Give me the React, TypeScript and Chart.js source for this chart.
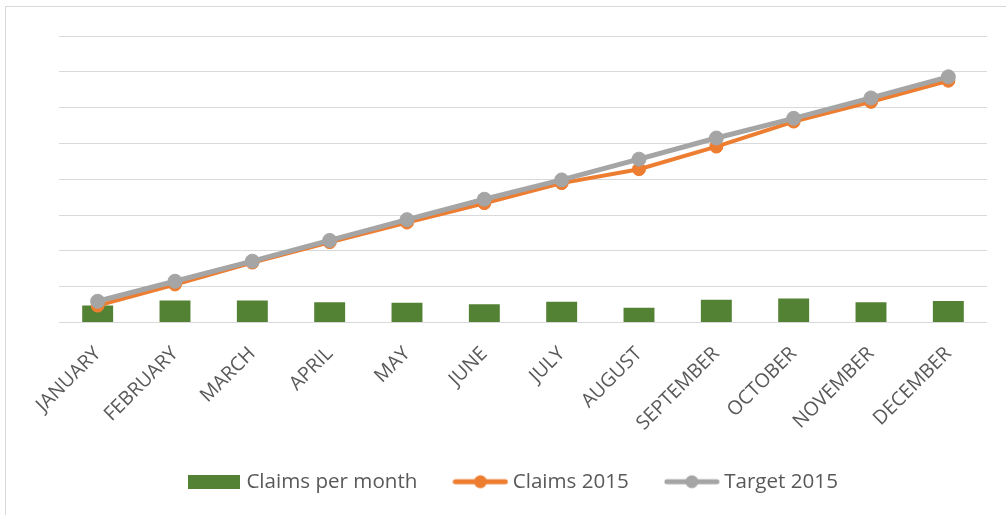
import React, { useEffect, useRef } from "react";
import { Chart, registerables } from "chart.js";

Chart.register(...registerables);

const months = [
  "JANUARY",
  "FEBRUARY",
  "MARCH",
  "APRIL",
  "MAY",
  "JUNE",
  "JULY",
  "AUGUST",
  "SEPTEMBER",
  "OCTOBER",
  "NOVEMBER",
  "DECEMBER",
];

const claimsPerMonth = [47, 61, 61, 56, 55, 51, 58, 41, 63, 67, 56, 60];
const claims2015 = [47, 106, 167, 224, 279, 333, 389, 428, 491, 561, 616, 675];
const target2015 = [59, 115, 171, 229, 287, 344, 398, 456, 515, 570, 627, 686];

const seriesNames = ["Claims per month", "Claims 2015", "Target 2015"];
const yMin = 0;
const yMax = 800;
const yStep = 100;

const GREEN = "#548235";
const ORANGE = "#ED7D31";
const GRAY = "#A5A5A5";
const TEXT = "#595959";
const GRID = "#D9D9D9";
const FONT = "'Open Sans', 'DejaVu Sans', sans-serif";

function barSwatch(color: string): HTMLCanvasElement {
  const c = document.createElement("canvas");
  c.width = 52;
  c.height = 14;
  const ctx = c.getContext("2d")!;
  ctx.fillStyle = color;
  ctx.fillRect(0, 0, 52, 14);
  return c;
}

function lineSwatch(color: string): HTMLCanvasElement {
  const c = document.createElement("canvas");
  c.width = 56;
  c.height = 16;
  const ctx = c.getContext("2d")!;
  ctx.strokeStyle = color;
  ctx.lineWidth = 5;
  ctx.lineCap = "round";
  ctx.beginPath();
  ctx.moveTo(3, 8);
  ctx.lineTo(53, 8);
  ctx.stroke();
  ctx.fillStyle = color;
  ctx.beginPath();
  ctx.arc(28, 8, 6.5, 0, Math.PI * 2);
  ctx.fill();
  return c;
}

export default function App() {
  const canvasRef = useRef<HTMLCanvasElement | null>(null);

  useEffect(() => {
    const canvas = canvasRef.current;
    if (!canvas) return;
    const swatches = [barSwatch(GREEN), lineSwatch(ORANGE), lineSwatch(GRAY)];

    const chart = new Chart(canvas, {
      type: "bar",
      data: {
        labels: months,
        datasets: [
          {
            type: "bar",
            label: seriesNames[0],
            data: claimsPerMonth,
            backgroundColor: GREEN,
            borderWidth: 0,
            categoryPercentage: 1,
            barPercentage: 0.4,
            order: 3,
          },
          {
            type: "line",
            label: seriesNames[1],
            data: claims2015,
            borderColor: ORANGE,
            backgroundColor: ORANGE,
            borderWidth: 4,
            pointRadius: 6.5,
            pointBorderWidth: 1,
            pointBackgroundColor: ORANGE,
            pointBorderColor: ORANGE,
            tension: 0,
            order: 2,
          },
          {
            type: "line",
            label: seriesNames[2],
            data: target2015,
            borderColor: GRAY,
            backgroundColor: GRAY,
            borderWidth: 5,
            pointRadius: 7,
            pointBorderWidth: 1,
            pointBackgroundColor: GRAY,
            pointBorderColor: GRAY,
            tension: 0,
            order: 1,
          },
        ],
      },
      options: {
        responsive: false,
        animation: false,
        devicePixelRatio: 1,
        layout: {
          padding: { left: 43, right: 19, top: 36, bottom: 13 },
        },
        scales: {
          x: {
            offset: true,
            grid: { display: false, drawTicks: false },
            border: { display: false },
            ticks: {
              autoSkip: false,
              maxRotation: 45,
              minRotation: 45,
              padding: 20,
              color: TEXT,
              font: { family: FONT, size: 19.5 },
            },
            afterFit: (s: any) => {
              s.height = 108;
            },
          },
          y: {
            min: yMin,
            max: yMax,
            ticks: { display: false, stepSize: yStep },
            grid: { color: GRID, lineWidth: 1, drawTicks: false },
            border: { display: false },
            afterFit: (s: any) => {
              s.width = 16;
            },
          },
        },
        plugins: {
          tooltip: { enabled: false },
          legend: {
            position: "bottom",
            labels: {
              usePointStyle: true,
              pointStyleWidth: 44,
              padding: 41,
              color: TEXT,
              font: { family: FONT, size: 20.6 },
              generateLabels: () =>
                seriesNames.map((name, i) => ({
                  text: name,
                  pointStyle: swatches[i] as any,
                  fillStyle: "transparent",
                  strokeStyle: "transparent",
                  lineWidth: 0,
                  hidden: false,
                  datasetIndex: i,
                  fontColor: TEXT,
                })),
            },
          },
        },
      },
    });

    return () => {
      chart.destroy();
    };
  }, []);

  return (
    <div
      style={{
        position: "absolute",
        left: 0,
        top: 0,
        width: 1006,
        height: 515,
        overflow: "hidden",
        background: "#fff",
      }}
    >
      <div
        style={{
          position: "absolute",
          left: 5,
          top: 6,
          width: 1100,
          height: 600,
          border: `1px solid ${GRID}`,
          boxSizing: "border-box",
        }}
      />
      <canvas
        ref={canvasRef}
        width={1006}
        height={515}
        style={{ position: "absolute", left: 0, top: 0 }}
      />
    </div>
  );
}
